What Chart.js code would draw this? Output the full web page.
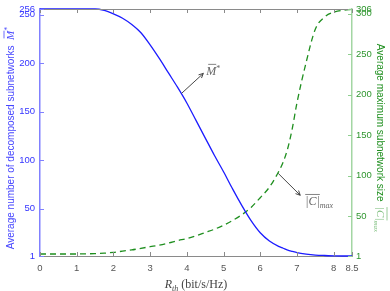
<!DOCTYPE html>
<html>
<head>
<meta charset="utf-8">
<script src="https://cdn.jsdelivr.net/npm/chart.js@4.4.1/dist/chart.umd.min.js"></script>
<style>
  html, body { margin: 0; padding: 0; background: #fff; }
  #chart { display: block; }
</style>
</head>
<body>
<canvas id="chart" width="390" height="291"></canvas>
<script>
// data
const rth = [0, 0.5, 1, 1.5, 1.75, 2, 2.25, 2.5, 2.75, 3, 3.25, 3.5, 3.75, 4, 4.25, 4.5,
             4.75, 5, 5.25, 5.5, 5.75, 6, 6.25, 6.5, 6.625, 6.75, 6.875, 7, 7.25, 7.5, 7.75, 8, 8.25, 8.5];
const mStar = [256, 256, 256, 256, 254.5, 251, 246.5, 240, 231.5, 219, 205, 190, 175, 159, 141, 123,
               105, 88, 70, 53, 37.5, 25, 16.5, 11, 9, 7, 5.7, 4.5, 3, 2, 1.5, 1.2, 1, 1];
const cMax = [3.5, 3.5, 3.5, 4, 4.5, 5.5, 7, 8.5, 10.5, 12.5, 14.5, 17, 20, 22.5, 26, 30,
              34, 39, 45, 52, 61, 73, 86, 105, 117, 134, 159, 190, 240, 281, 296, 302, 304.5, 305.5];

const xTicks = [0, 1, 2, 3, 4, 5, 6, 7, 8, 8.5];
const leftTicks = [1, 50, 100, 150, 200, 250, 256];
const rightTicks = [1, 50, 100, 150, 200, 250, 300, 306];

const BLUE = '#1c1cff';
const GREEN = '#1f8f1f';
const SANS = '"Liberation Sans", Arial, sans-serif';
const SERIF = '"Liberation Serif", "DejaVu Serif", serif';

// arrow annotations (data coords)
const mNote = { from: [3.86, 169], to: [4.45, 189.5], label: [4.5, 188] };
const cNote = { from: [6.49, 103], to: [7.09, 76], label: [7.17, 64] };

const toPts = (xs, ys) => xs.map((x, i) => ({ x: x, y: ys[i] }));
const setTicks = list => scale => { scale.ticks = list.map(v => ({ value: v })); };
const noPad = (prop, size) => scale => {
  scale[prop] = size;
  scale.paddingTop = 0; scale.paddingBottom = 0;
  scale.paddingLeft = 0; scale.paddingRight = 0;
};

function richText(ctx, parts, x, y, angle) {
  ctx.save();
  ctx.translate(x, y);
  ctx.rotate(angle);
  ctx.textBaseline = 'alphabetic';
  ctx.textAlign = 'left';
  let total = 0;
  parts.forEach(p => {
    ctx.font = p.font;
    p.w = ctx.measureText(p.text).width;
    total += p.w;
  });
  let cx = -total / 2;
  parts.forEach(p => {
    ctx.font = p.font;
    ctx.fillStyle = p.color;
    ctx.fillText(p.text, cx, p.dy || 0);
    if (p.bar) {
      ctx.strokeStyle = p.color;
      ctx.lineWidth = 0.8;
      ctx.beginPath();
      ctx.moveTo(cx + (p.barL || 0), -p.bar);
      ctx.lineTo(cx + p.w - (p.barR || 0), -p.bar);
      ctx.stroke();
    }
    cx += p.w;
  });
  ctx.restore();
}

function arrow(ctx, x1, y1, x2, y2) {
  const a = Math.atan2(y2 - y1, x2 - x1);
  const h = 5;
  ctx.save();
  ctx.strokeStyle = '#333';
  ctx.lineWidth = 0.9;
  ctx.beginPath();
  ctx.moveTo(x1, y1);
  ctx.lineTo(x2, y2);
  ctx.moveTo(x2 - h * Math.cos(a - 0.45), y2 - h * Math.sin(a - 0.45));
  ctx.lineTo(x2, y2);
  ctx.lineTo(x2 - h * Math.cos(a + 0.45), y2 - h * Math.sin(a + 0.45));
  ctx.stroke();
  ctx.restore();
}

const frame = {
  id: 'frame',
  afterDraw(chart) {
    const ctx = chart.ctx;
    const { left, right, top, bottom } = chart.chartArea;
    const sx = chart.scales.x, sl = chart.scales.y, sr = chart.scales.y1;

    ctx.save();
    // top border
    ctx.strokeStyle = '#8a8a8a';
    ctx.lineWidth = 1;
    ctx.beginPath();
    ctx.moveTo(left, top + 0.5);
    ctx.lineTo(right, top + 0.5);
    ctx.stroke();

    // inward tick marks
    ctx.beginPath();
    xTicks.forEach(v => {
      const px = Math.round(sx.getPixelForValue(v)) + 0.5;
      ctx.moveTo(px, bottom); ctx.lineTo(px, bottom - 4);
      ctx.moveTo(px, top); ctx.lineTo(px, top + 4);
    });
    ctx.stroke();

    ctx.strokeStyle = '#8080ff';
    ctx.beginPath();
    leftTicks.forEach(v => {
      const py = Math.round(sl.getPixelForValue(v)) + 0.5;
      ctx.moveTo(left, py); ctx.lineTo(left + 4, py);
    });
    ctx.stroke();

    ctx.strokeStyle = '#8fcf8f';
    ctx.beginPath();
    rightTicks.forEach(v => {
      const py = Math.round(sr.getPixelForValue(v)) + 0.5;
      ctx.moveTo(right, py); ctx.lineTo(right - 4, py);
    });
    ctx.stroke();
    ctx.restore();

    // axis titles
    richText(ctx, [
      { text: 'Average number of decomposed subnetworks  ', font: '10px ' + SANS, color: '#4646ff' },
      { text: 'M', font: 'italic 11px ' + SERIF, color: '#4646ff', bar: 10, barL: 1.5, barR: 0 },
      { text: '*', font: '8px ' + SERIF, color: '#4646ff', dy: -4 }
    ], 14, 138, -Math.PI / 2);

    richText(ctx, [
      { text: 'Average maximum subnetwork size  ', font: '10px ' + SANS, color: GREEN },
      { text: '|C|', font: 'italic 11px ' + SERIF, color: '#7fbf7f', bar: 10 },
      { text: 'max', font: 'italic 7px ' + SERIF, color: '#7fbf7f', dy: 3 }
    ], 377, 138, Math.PI / 2);

    richText(ctx, [
      { text: 'R', font: 'italic 12px ' + SERIF, color: '#444' },
      { text: 'th', font: 'italic 8px ' + SERIF, color: '#444', dy: 3 },
      { text: ' (bit/s/Hz)', font: '12px ' + SERIF, color: '#444' }
    ], (left + right) / 2, 288, 0);

    // annotations
    arrow(ctx, sx.getPixelForValue(mNote.from[0]), sl.getPixelForValue(mNote.from[1]),
               sx.getPixelForValue(mNote.to[0]), sl.getPixelForValue(mNote.to[1]));
    arrow(ctx, sx.getPixelForValue(cNote.from[0]), sr.getPixelForValue(cNote.from[1]),
               sx.getPixelForValue(cNote.to[0]), sr.getPixelForValue(cNote.to[1]));

    let lx = sx.getPixelForValue(mNote.label[0]), ly = sl.getPixelForValue(mNote.label[1]);
    richText(ctx, [
      { text: 'M', font: 'italic 12px ' + SERIF, color: '#666', bar: 10.5, barL: 2 },
      { text: '*', font: '8px ' + SERIF, color: '#666', dy: -4 }
    ], lx + 8, ly, 0);

    lx = sx.getPixelForValue(cNote.label[0]); ly = sr.getPixelForValue(cNote.label[1]);
    richText(ctx, [
      { text: '|C|', font: 'italic 12px ' + SERIF, color: '#666', bar: 10.5 },
      { text: 'max', font: 'italic 8px ' + SERIF, color: '#666', dy: 3 }
    ], lx + 16, ly, 0);
  }
};

const axisGrid = { display: false, drawTicks: false, tickLength: 0 };

new Chart(document.querySelector('#chart').getContext('2d'), {
  type: 'line',
  data: {
    datasets: [
      {
        label: 'M*',
        data: toPts(rth, mStar),
        yAxisID: 'y',
        borderColor: BLUE,
        borderWidth: 1.3,
        pointRadius: 0,
        cubicInterpolationMode: 'monotone',
        clip: 4
      },
      {
        label: 'Cmax',
        data: toPts(rth, cMax),
        yAxisID: 'y1',
        borderColor: GREEN,
        borderWidth: 1.3,
        borderDash: [6, 4],
        pointRadius: 0,
        cubicInterpolationMode: 'monotone',
        clip: 4
      }
    ]
  },
  options: {
    responsive: false,
    animation: false,
    devicePixelRatio: 1,
    layout: { padding: { top: 9, left: 0, right: 0, bottom: 0 } },
    plugins: { legend: { display: false }, tooltip: { enabled: false } },
    scales: {
      x: {
        type: 'linear',
        min: 0,
        max: 8.5,
        grid: axisGrid,
        border: { display: true, color: '#8a8a8a', width: 1 },
        afterBuildTicks: setTicks(xTicks),
        afterFit: noPad('height', 35),
        ticks: {
          autoSkip: false, maxRotation: 0, padding: 7,
          color: '#555', font: { family: SANS, size: 9.5 },
          callback: v => String(v)
        }
      },
      y: {
        type: 'linear',
        position: 'left',
        min: 1,
        max: 256,
        grid: axisGrid,
        border: { display: true, color: '#8080ff', width: 1.5 },
        afterBuildTicks: setTicks(leftTicks),
        afterFit: noPad('width', 40),
        ticks: {
          autoSkip: false, padding: 5,
          color: '#3535ff', font: { family: SANS, size: 9.5 },
          callback: v => String(v)
        }
      },
      y1: {
        type: 'linear',
        position: 'right',
        min: 1,
        max: 306,
        grid: axisGrid,
        border: { display: true, color: '#a3d6a3', width: 1.5 },
        afterBuildTicks: setTicks(rightTicks),
        afterFit: noPad('width', 38),
        ticks: {
          autoSkip: false, padding: 4,
          color: '#2f962f', font: { family: SANS, size: 9.5 },
          callback: v => String(v)
        }
      }
    }
  },
  plugins: [frame]
});
</script>
</body>
</html>
